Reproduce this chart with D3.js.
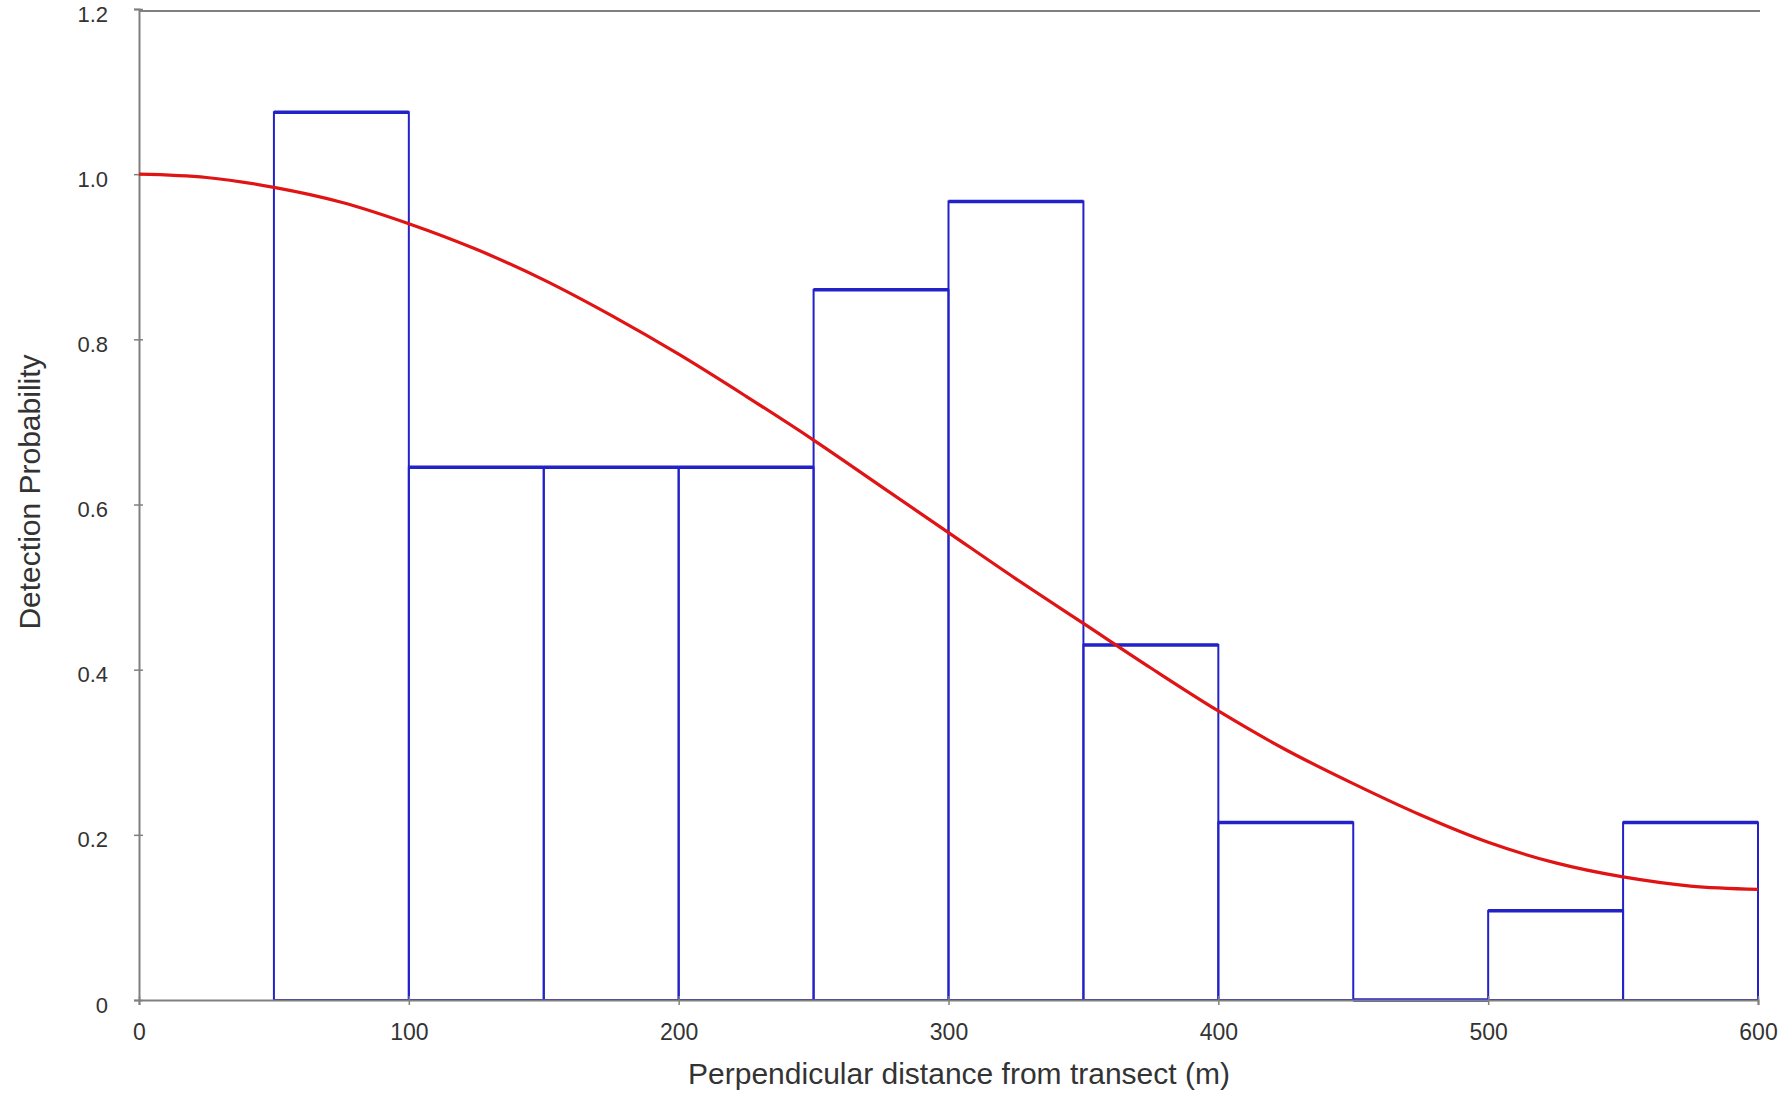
<!DOCTYPE html>
<html>
<head>
<meta charset="utf-8">
<script src="https://cdn.jsdelivr.net/npm/d3@7"></script>
<style>
  body { margin: 0; background: #fff; }
  text { font-family: "Liberation Sans", Arial, sans-serif; fill: #333; }
</style>
</head>
<body>
<script>
// Histogram bins (start of each 50 m band) and scaled detection heights
var binStart = [0, 50, 100, 150, 200, 250, 300, 350, 400, 450, 500, 550];
var binWidth = 50;
var binValue = [null, 1.075, 0.645, 0.645, 0.645, 0.860, 0.967, 0.430, 0.215, 0, 0.108, 0.215];

// Fitted detection function
var curveDist = [0, 25, 50, 75, 100, 125, 150, 175, 200, 225, 250, 275, 300,
                 325, 350, 375, 400, 425, 450, 475, 500, 525, 550, 575, 600];
var curveProb = [1.000, 0.996, 0.984, 0.966, 0.940, 0.909, 0.872, 0.829, 0.782, 0.731, 0.678, 0.622, 0.566,
                 0.510, 0.456, 0.402, 0.350, 0.303, 0.262, 0.224, 0.191, 0.166, 0.149, 0.138, 0.134];

var xTicks = [0, 100, 200, 300, 400, 500, 600];
var yTicks = [0, 0.2, 0.4, 0.6, 0.8, 1.0, 1.2];

var W = 1782, H = 1097;
var plotLeft = 139, plotRight = 1758, plotTop = 9, plotBottom = 1000;

var svg = d3.select("body").append("svg")
    .attr("width", W)
    .attr("height", H);

svg.append("rect").attr("width", W).attr("height", H).attr("fill", "#fff");

var x = d3.scaleLinear().domain([0, 600]).range([plotLeft, plotRight]);
var y = d3.scaleLinear().domain([0, 1.2]).range([plotBottom, plotTop]);

var axisColor = "#808080";

// top frame line at 1.2
svg.append("line")
    .attr("x1", plotLeft).attr("x2", plotRight + 2)
    .attr("y1", y(1.2) + 2).attr("y2", y(1.2) + 2)
    .attr("stroke", axisColor).attr("stroke-width", 2);

// histogram bars
var bars = binStart.map(function(s, i) { return {s: s, v: binValue[i]}; })
    .filter(function(d) { return d.v !== null; });

var blue = "#2222c8";
svg.selectAll("rect.bar")
    .data(bars)
    .enter().append("rect")
    .attr("class", "bar")
    .attr("x", function(d) { return x(d.s); })
    .attr("width", function(d) { return x(d.s + binWidth) - x(d.s); })
    .attr("y", function(d) { return y(d.v); })
    .attr("height", function(d) { return y(0) - y(d.v); })
    .attr("fill", "none")
    .attr("stroke", blue)
    .attr("stroke-width", 2);

svg.selectAll("line.bartop")
    .data(bars)
    .enter().append("line")
    .attr("class", "bartop")
    .attr("x1", function(d) { return x(d.s); })
    .attr("x2", function(d) { return x(d.s + binWidth); })
    .attr("y1", function(d) { return y(d.v); })
    .attr("y2", function(d) { return y(d.v); })
    .attr("stroke", blue)
    .attr("stroke-width", 3.5);

// x axis
var xAxis = svg.append("g")
    .attr("transform", "translate(0," + plotBottom + ")")
    .call(d3.axisBottom(x).tickValues(xTicks).tickSize(5).tickPadding(19).tickFormat(d3.format("d")));
xAxis.select(".domain").attr("stroke", axisColor).attr("stroke-width", 2);
xAxis.selectAll(".tick line").attr("stroke", axisColor).attr("stroke-width", 1.5).attr("y1", -4);
xAxis.selectAll(".tick text").style("font-size", "23px").attr("fill", "#333");

// y axis
var yAxis = svg.append("g")
    .attr("transform", "translate(" + plotLeft + ",0)")
    .call(d3.axisLeft(y).tickValues(yTicks).tickSize(5).tickPadding(26)
        .tickFormat(function(d) { return d === 0 ? "0" : d3.format(".1f")(d); }));
yAxis.select(".domain").attr("stroke", axisColor).attr("stroke-width", 2);
yAxis.selectAll(".tick line").attr("stroke", axisColor).attr("stroke-width", 1.5).attr("x1", 4);
yAxis.selectAll(".tick text").style("font-size", "22px").attr("fill", "#333").attr("dy", "0.55em");

// detection curve
var line = d3.line()
    .x(function(d, i) { return x(curveDist[i]); })
    .y(function(d) { return y(d); })
    .curve(d3.curveCatmullRom);

svg.append("path")
    .datum(curveProb)
    .attr("d", line)
    .attr("fill", "none")
    .attr("stroke", "#e01414")
    .attr("stroke-width", 3.2);

// axis titles
svg.append("text")
    .attr("x", 959)
    .attr("y", 1084)
    .attr("text-anchor", "middle")
    .style("font-size", "30px")
    .text("Perpendicular distance from transect (m)");

svg.append("text")
    .attr("transform", "translate(40,492) rotate(-90)")
    .attr("text-anchor", "middle")
    .style("font-size", "30px")
    .text("Detection Probability");
</script>
</body>
</html>
